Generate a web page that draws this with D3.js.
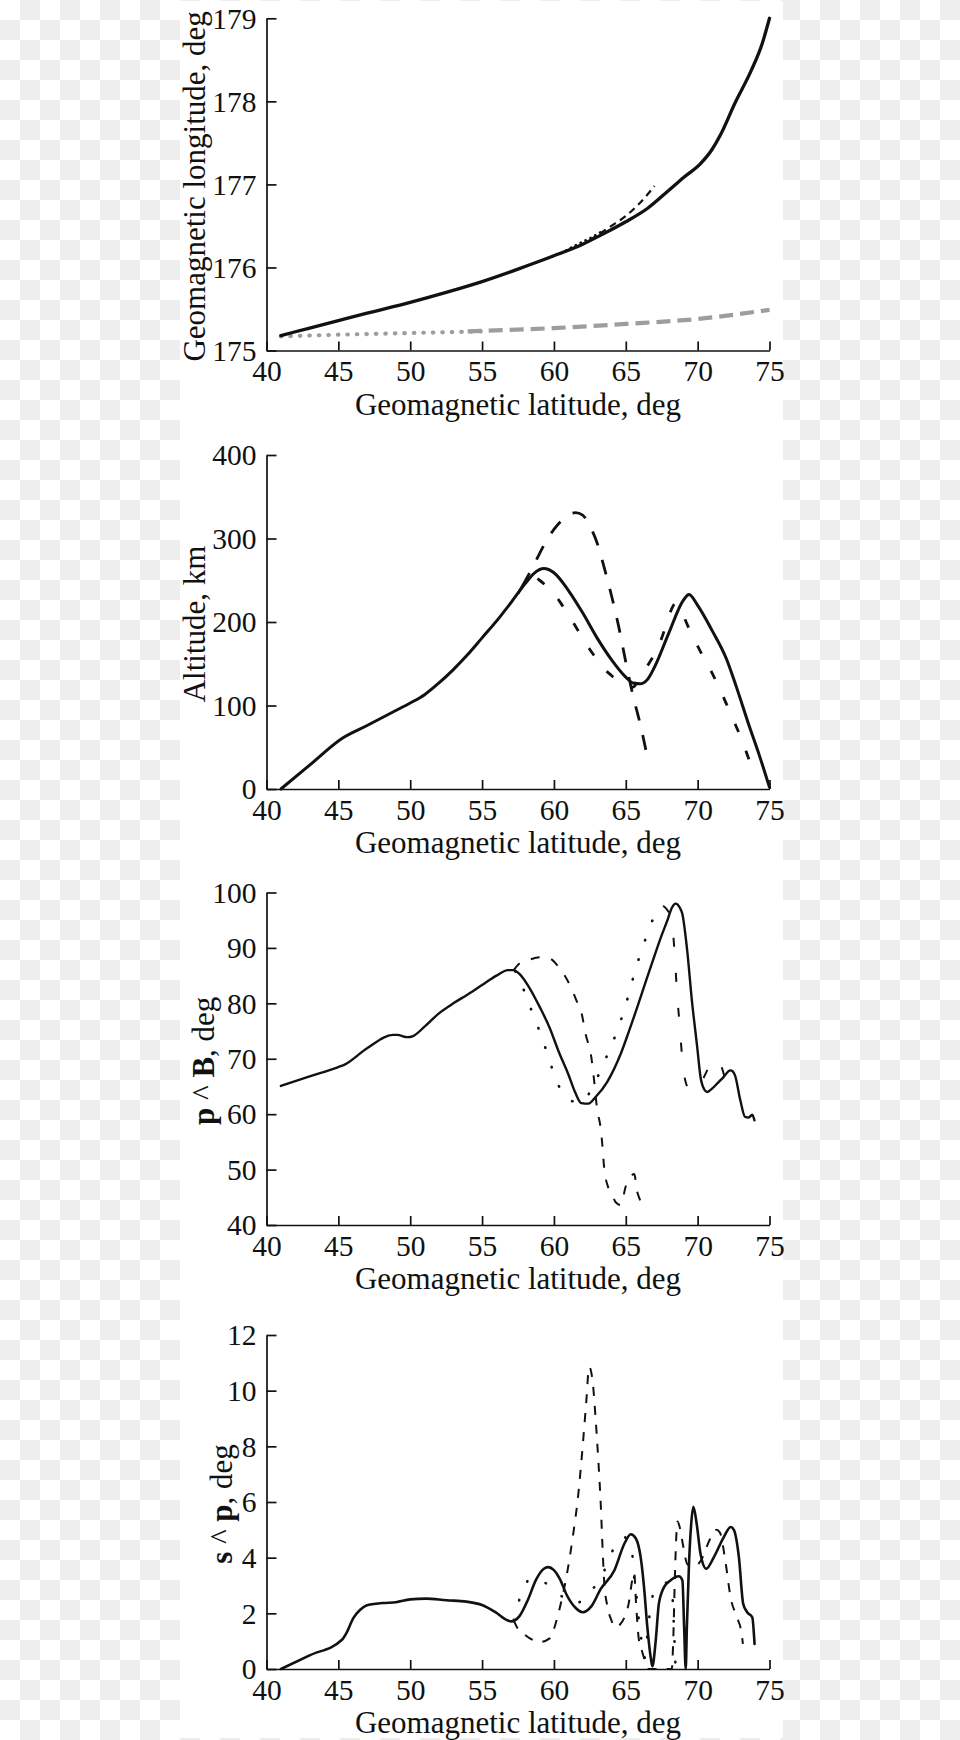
<!DOCTYPE html>
<html><head><meta charset="utf-8">
<script src="https://cdn.jsdelivr.net/npm/d3@7"></script>
<style>
body{margin:0;background:#fff}
svg{display:block}
</style>
</head><body>
<svg id="chart" width="960" height="1740"></svg>
<script>
// ---------- tick labels ----------
const latTicks = [40, 45, 50, 55, 60, 65, 70, 75];
const lonTicks = [175, 176, 177, 178, 179];
const altTicks = [0, 100, 200, 300, 400];
const pbTicks  = [40, 50, 60, 70, 80, 90, 100];
const spTicks  = [0, 2, 4, 6, 8, 10, 12];

// ---------- panel 1: geomagnetic longitude ----------
const lonSolid = [[41,175.18],[43,175.27],[45,175.36],[47,175.45],[50,175.58],[52.5,175.7],[55,175.83],[57.5,175.98],[60,176.14],[62,176.28],[63.5,176.41],[65,176.55],[66.5,176.71],[68,176.93],[69,177.08],[70.2,177.25],[71,177.42],[71.6,177.6],[72.6,177.98],[73.7,178.36],[74.5,178.7],[75,179.0]];
const lonDash  = [[62.5,176.33],[63.3,176.42],[64,176.5],[65,176.62],[66,176.78],[67,176.98]];
const lonDot   = [[60.5,176.17],[61.3,176.25],[62,176.31],[62.7,176.37],[63.4,176.44]];
const lonGrayDot  = [[41,175.17],[45,175.19],[50,175.21],[55,175.23]];
const lonGrayDash = [[54,175.23],[60,175.27],[65,175.32],[70,175.38],[72.5,175.43],[75,175.49]];

// ---------- panel 2: altitude ----------
const altSolid = [[41,0],[43,28.5],[45.3,61],[47,76],[49,94],[50,103],[51,113],[52,127],[53,143],[54,161],[55,181],[56,201],[57,223],[58,246],[58.6,258],[59.3,264],[60,259],[61,238],[62,211],[63,181],[64,155],[65,134],[65.5,127],[66,126],[66.5,131],[67,146],[68,187],[69,226],[69.4,233],[70,220],[71,190],[72,156],[72.7,122],[73.5,80],[74.3,40],[75,2]];
const altDashLong  = [[57.8,243],[58.5,265],[59,282],[59.5,298],[60,311],[60.5,321],[61,328],[61.5,331],[62,328],[62.4,318],[62.7,308],[63,295],[63.5,265],[64,232],[64.5,195],[65,152],[65.5,112],[66,78],[66.6,30]];
const altDashShort = [[57.5,234],[58,248],[58.5,255],[59,250],[59.6,241],[60,234],[60.5,222],[61,208],[61.5,195],[62,180],[62.5,167],[63,155],[63.5,144],[64,136],[64.5,129],[65,124],[65.5,122],[66,135],[66.6,150],[67.3,172],[67.8,196],[68.1,212],[68.45,222],[68.8,215],[69.3,196],[69.8,178],[70.4,158],[71,139],[71.5,121],[72,102],[72.5,82],[73,62],[73.6,34]];

// ---------- panel 3: p ^ B ----------
const pbSolid = [[41,65.1],[43,66.8],[45,68.5],[45.4,68.9],[47,71.9],[48.8,74.3],[49.1,74.3],[49.8,73.9],[50.2,74.1],[51,75.8],[52,78.2],[53,80.0],[54,81.6],[55,83.3],[56,85.0],[56.8,86.0],[57.2,86.0],[57.6,85.3],[58.2,83.2],[59,79.4],[59.7,75.6],[60.3,71.5],[61,67.2],[61.5,63.8],[61.9,62.0],[62.4,61.9],[62.9,63.1],[63.7,65.8],[64.65,70.9],[65.2,74.8],[65.8,79.3],[66.4,84],[66.96,88.3],[67.5,92.3],[67.9,95.0],[68.2,97.2],[68.46,98.0],[68.75,97.3],[68.93,96.2],[69.27,89.6],[69.6,80.5],[69.97,72.1],[70.2,66.7],[70.45,64.5],[70.66,64.0],[71,64.6],[71.35,65.5],[71.8,66.7],[72.27,67.9],[72.45,67.7],[72.6,67.0],[72.97,62.5],[73.3,59.5],[73.55,59.4],[73.8,59.9],[73.95,58.9]];
const pbDash  = [[57.2,86.0],[57.6,87.2],[58.2,87.8],[59,88.3],[59.4,88.3],[59.9,87.8],[60.4,86.3],[60.8,84.8],[61.2,82.8],[61.6,80.3],[61.9,78.5],[62.2,74.5],[62.6,70.3],[62.8,66],[63,61],[63.25,57.5],[63.35,55],[63.5,50.2],[63.75,47],[64,45.8],[64.3,44.1],[64.65,43.6],[65,47.0],[65.35,48.8],[65.6,49.2],[65.75,46.5],[65.95,44.8],[66.15,43.8],[66.3,44.4]];
const pbDashB = [[67.6,97.6],[68.15,95.5],[68.4,89],[68.55,82.5],[68.75,76],[68.95,69.4],[69.2,65.5],[69.5,64.3],[69.9,64.3],[70.4,66.5],[71,69.5],[71.3,70.1],[71.6,69],[72,65.5],[72.1,64.6]];
const pbDot   = [[57.3,85.8],[57.6,84.4],[58.2,80.3],[58.75,76.7],[59.3,72.8],[59.75,69.2],[60.3,65.3],[60.8,63.2],[61.4,62.3],[62,62.3],[62.6,64.5],[63,66.5],[63.5,69.4],[64.08,72.9],[64.6,76.5],[65.07,80.4],[65.46,84.1],[65.9,88],[66.4,91.8],[66.9,95.2],[67.3,96.5]];

// ---------- panel 4: s ^ p ----------
const spSolid = [[41,0],[43,0.49],[45.25,1.05],[45.57,1.3],[46.03,1.82],[46.5,2.12],[46.95,2.28],[48.1,2.37],[49,2.4],[50,2.5],[51.1,2.53],[52.5,2.47],[53.9,2.42],[55,2.3],[55.9,2.05],[56.8,1.74],[57.05,1.71],[57.6,1.9],[58.2,2.5],[58.75,3.2],[59.3,3.6],[59.6,3.66],[60,3.55],[60.4,3.25],[60.9,2.65],[61.5,2.2],[62,2.04],[62.6,2.25],[63.26,2.88],[64.2,3.54],[64.9,4.5],[65.35,4.84],[65.7,4.69],[66.04,4.0],[66.27,2.94],[66.5,1.5],[66.74,0.4],[66.85,0.1],[67.08,1.0],[67.3,2.34],[67.66,2.94],[68.1,3.18],[68.7,3.33],[68.94,3.18],[69.06,1.5],[69.17,0.0],[69.25,1.5],[69.4,3.8],[69.55,5.2],[69.7,5.83],[69.93,5.23],[70.2,4.14],[70.6,3.6],[71.13,4.02],[71.83,4.75],[72.3,5.1],[72.52,5.0],[72.87,4.02],[73.17,2.34],[73.45,2.04],[73.8,1.86],[73.96,0.9]];
const spDash  = [[57.2,1.75],[57.5,1.44],[57.9,1.26],[58.5,1.05],[59.1,0.98],[59.7,1.1],[60.1,1.6],[60.5,2.4],[60.9,3.4],[61.3,4.7],[61.7,6.3],[62,8.0],[62.25,9.6],[62.45,10.85],[62.7,10.3],[62.9,9.0],[63.1,7.4],[63.25,6.0],[63.38,4.4],[63.5,3.1],[63.7,2.3],[64,1.75],[64.3,1.5],[64.6,1.6],[64.9,1.85],[65.2,2.35],[65.45,3.2],[65.58,3.45],[65.72,2.3],[65.9,1.1],[66.15,0.6],[66.4,0.2],[66.6,0],[68.2,0],[68.3,1.0],[68.4,3.0],[68.5,4.6],[68.6,5.3],[68.75,5.1],[69,4.4],[69.3,3.75],[69.8,3.7],[70.3,3.96],[70.8,4.6],[71.3,5.0],[71.55,4.9],[71.95,3.8],[72.3,2.55],[72.7,1.9],[73.05,1.3],[73.15,0.9]];
const spDot   = [[57.2,1.75],[57.5,2.33],[58,3.05],[58.5,3.25],[59.2,3.15],[60,2.87],[60.7,2.55],[61.5,2.35],[62.45,2.75],[63.4,3.4],[63.9,4.07],[64.4,4.5],[64.84,4.75],[65.2,4.55],[65.46,4.08],[65.6,3.2],[65.75,2.6],[65.9,1.8],[66.1,1.0],[66.3,0.4],[66.5,1.2],[66.8,2.5],[67.2,2.9],[67.8,3.1],[68.2,2.9],[68.35,1.5],[68.45,0.2]];

// ---------- drawing ----------
const svg = d3.select("#chart");
const FONT = '"Liberation Serif","Times New Roman",serif';
const INK = "#111";

// checkerboard backdrop + white page
const defs = svg.append("defs");
const pat = defs.append("pattern").attr("id","cb").attr("width",40).attr("height",40).attr("patternUnits","userSpaceOnUse");
pat.append("rect").attr("width",40).attr("height",40).attr("fill","#fff");
pat.append("rect").attr("x",20).attr("y",0).attr("width",20).attr("height",20).attr("fill","#eeeeee");
pat.append("rect").attr("x",0).attr("y",20).attr("width",20).attr("height",20).attr("fill","#eeeeee");
svg.append("rect").attr("width",960).attr("height",1740).attr("fill","url(#cb)");
svg.append("rect").attr("x",180).attr("y",1).attr("width",603).attr("height",1737).attr("fill","#fff");

const X0 = 266.5, X1 = 769.5;
const x = d3.scaleLinear().domain([40,75]).range([X0,X1]);

const panels = [
  {top:18.3, bottom:350.5, domain:[175,179], ticks:lonTicks, titleX:205,
   title:[["Geomagnetic longitude, deg",false]],
   series:[
     {data:lonGrayDot, stroke:"#9d9d9d", w:4.2, dash:"0.5,9", cap:"round"},
     {data:lonGrayDash, stroke:"#9d9d9d", w:4.2, dash:"14,7", cap:"butt"},
     {data:lonDot, stroke:INK, w:2.4, dash:"0.5,5", cap:"round"},
     {data:lonDash, stroke:INK, w:2.2, dash:"7,5", cap:"butt"},
     {data:lonSolid, stroke:INK, w:3.3, dash:null, cap:"round"}
   ]},
  {top:455, bottom:789, domain:[0,400], ticks:altTicks, titleX:205,
   title:[["Altitude, km",false]],
   series:[
     {data:altDashShort, stroke:INK, w:2.8, dash:"9,20", cap:"butt"},
     {data:altDashLong, stroke:INK, w:2.8, dash:"15,15", cap:"butt"},
     {data:altSolid, stroke:INK, w:3.0, dash:null, cap:"round"}
   ]},
  {top:892.5, bottom:1225, domain:[40,100], ticks:pbTicks, titleX:214,
   title:[["p",true],[" ^ ",false],["B",true],[", deg",false]],
   series:[
     {data:pbDot, stroke:INK, w:2.6, dash:"0.5,20", cap:"round"},
     {data:pbDashB, stroke:INK, w:2.0, dash:"9,26", cap:"butt"},
     {data:pbDash, stroke:INK, w:2.0, dash:"9,12", cap:"butt"},
     {data:pbSolid, stroke:INK, w:2.4, dash:null, cap:"round"}
   ]},
  {top:1335, bottom:1669, domain:[0,12], ticks:spTicks, titleX:232,
   title:[["s",true],[" ^ ",false],["p",true],[", deg",false]],
   series:[
     {data:spDot, stroke:INK, w:2.6, dash:"0.5,20", cap:"round"},
     {data:spDash, stroke:INK, w:2.0, dash:"9,10", cap:"butt"},
     {data:spSolid, stroke:INK, w:2.6, dash:null, cap:"round"}
   ]}
];

panels.forEach(p => {
  const y = d3.scaleLinear().domain(p.domain).range([p.bottom, p.top]);
  const g = svg.append("g");

  // series
  const line = d3.line().x(d => x(d[0])).y(d => y(d[1])).curve(d3.curveMonotoneX);
  p.series.forEach(s => {
    g.append("path").datum(s.data)
      .attr("d", line)
      .attr("fill","none")
      .attr("stroke", s.stroke)
      .attr("stroke-width", s.w)
      .attr("stroke-linecap", s.cap)
      .attr("stroke-linejoin","round")
      .attr("stroke-dasharray", s.dash);
  });

  // x axis
  const xa = g.append("g").attr("transform",`translate(0,${p.bottom})`)
    .call(d3.axisBottom(x).tickValues(latTicks).tickSize(-9).tickSizeOuter(0).tickPadding(10).tickFormat(d3.format("d")));
  // y axis
  const ya = g.append("g").attr("transform",`translate(${X0},0)`)
    .call(d3.axisLeft(y).tickValues(p.ticks).tickSize(-10).tickSizeOuter(0).tickPadding(10).tickFormat(d3.format("d")));
  [xa, ya].forEach(a => {
    a.attr("font-size",29.5).attr("font-family",FONT);
    a.selectAll("path,line").attr("stroke",INK).attr("stroke-width",1.7);
    a.selectAll("text").attr("fill",INK);
  });
  ya.selectAll("text").attr("dy","0.33em");

  // x title
  g.append("text")
    .attr("x",(X0+X1)/2).attr("y",p.bottom+64)
    .attr("text-anchor","middle")
    .attr("font-family",FONT).attr("font-size",31).attr("fill",INK)
    .text("Geomagnetic latitude, deg");

  // y title
  const cy = (p.top+p.bottom)/2 + 2;
  const t = g.append("text")
    .attr("transform",`translate(${p.titleX},${cy}) rotate(-90)`)
    .attr("text-anchor","middle")
    .attr("font-family",FONT).attr("font-size",31).attr("fill",INK)
    .style("white-space","pre");
  p.title.forEach(([txt,bold]) => {
    t.append("tspan").attr("font-weight", bold ? "bold" : "normal").text(txt);
  });
});
</script>
</body></html>
